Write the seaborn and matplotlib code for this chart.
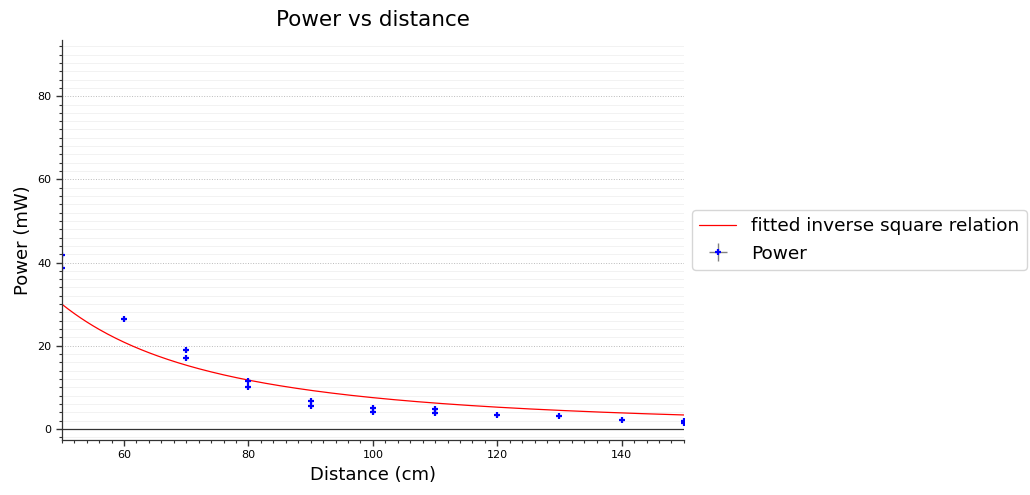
import numpy as np
import matplotlib
matplotlib.use("Agg")
import matplotlib.pyplot as plt
import seaborn as sns
from matplotlib.ticker import MultipleLocator

# Data
distance_cm = [50, 50, 60, 70, 70, 80, 80, 90, 90, 100, 100, 110, 110, 120, 130, 140, 150, 150]
power_mw = [41.8, 38.7, 26.3, 18.9, 17.0, 11.6, 10.0, 6.6, 5.4, 5.1, 4.0, 4.8, 3.8, 3.4, 3.2, 2.2, 1.9, 1.3]
dist_err = [0.1] * len(distance_cm)
power_err = [0.2] * len(distance_cm)

# fitted inverse square coefficient (P = A / d^2)
fit_A = 75000.0
fit_range = [50, 150]

x_ticks = [60, 80, 100, 120, 140]
y_ticks = [0, 20, 40, 60, 80]

sns.set_style("white")
plt.rcParams['font.family'] = ['DejaVu Sans']
plt.rcParams['text.color'] = 'black'
plt.rcParams['axes.labelcolor'] = 'black'
plt.rcParams['xtick.color'] = 'black'
plt.rcParams['ytick.color'] = 'black'

fig = plt.figure(figsize=(10.3, 4.95), dpi=100)
ax = fig.add_axes([0.060, 0.111, 0.604, 0.808])

d_fit = np.linspace(fit_range[0], fit_range[1], 300)
p_fit = fit_A / d_fit ** 2
sns.lineplot(x=d_fit, y=p_fit, color="red", lw=0.9, ax=ax,
             label="fitted inverse square relation")

ax.errorbar(distance_cm, power_mw, xerr=dist_err, yerr=power_err, fmt="+",
            color="blue", ecolor="gray", elinewidth=1, markersize=4.5,
            markeredgewidth=1.6, label="Power")

ax.axhline(0, color="#333333", lw=0.9, zorder=1)

ax.set_xlim(50, 150)
ax.set_ylim(-2.7, 93.5)
ax.set_xticks(x_ticks)
ax.set_yticks(y_ticks)
ax.xaxis.set_minor_locator(MultipleLocator(2))
ax.yaxis.set_minor_locator(MultipleLocator(2))
ax.tick_params(axis="both", which="major", length=4, width=1, labelsize=8,
               color="#333333", labelcolor="black", direction="out",
               bottom=True, left=True)
ax.tick_params(axis="both", which="minor", length=2.5, width=0.8,
               color="#333333", direction="out", bottom=True, left=True)

ax.grid(False)
ax.yaxis.grid(True, which="major", linestyle=":", color="#bbbbbb", lw=0.7)
ax.yaxis.grid(True, which="minor", linestyle="-", color="#f0f0f0", lw=0.6)
ax.set_axisbelow(True)

sns.despine(ax=ax)
for s in ["left", "bottom"]:
    ax.spines[s].set_color("#333333")
    ax.spines[s].set_linewidth(0.9)

ax.set_title("Power vs distance", fontsize=15.5, pad=10, color="black")
ax.set_xlabel("Distance (cm)", fontsize=13, color="black")
ax.set_ylabel("Power (mW)", fontsize=13, color="black")

leg = ax.legend(loc="center left", bbox_to_anchor=(1.013, 0.5), fontsize=13.3,
                frameon=True, borderaxespad=0.0)
leg.get_frame().set_edgecolor("#cccccc")
for t in leg.get_texts():
    t.set_color("black")

fig.savefig("out.png", dpi=100)
